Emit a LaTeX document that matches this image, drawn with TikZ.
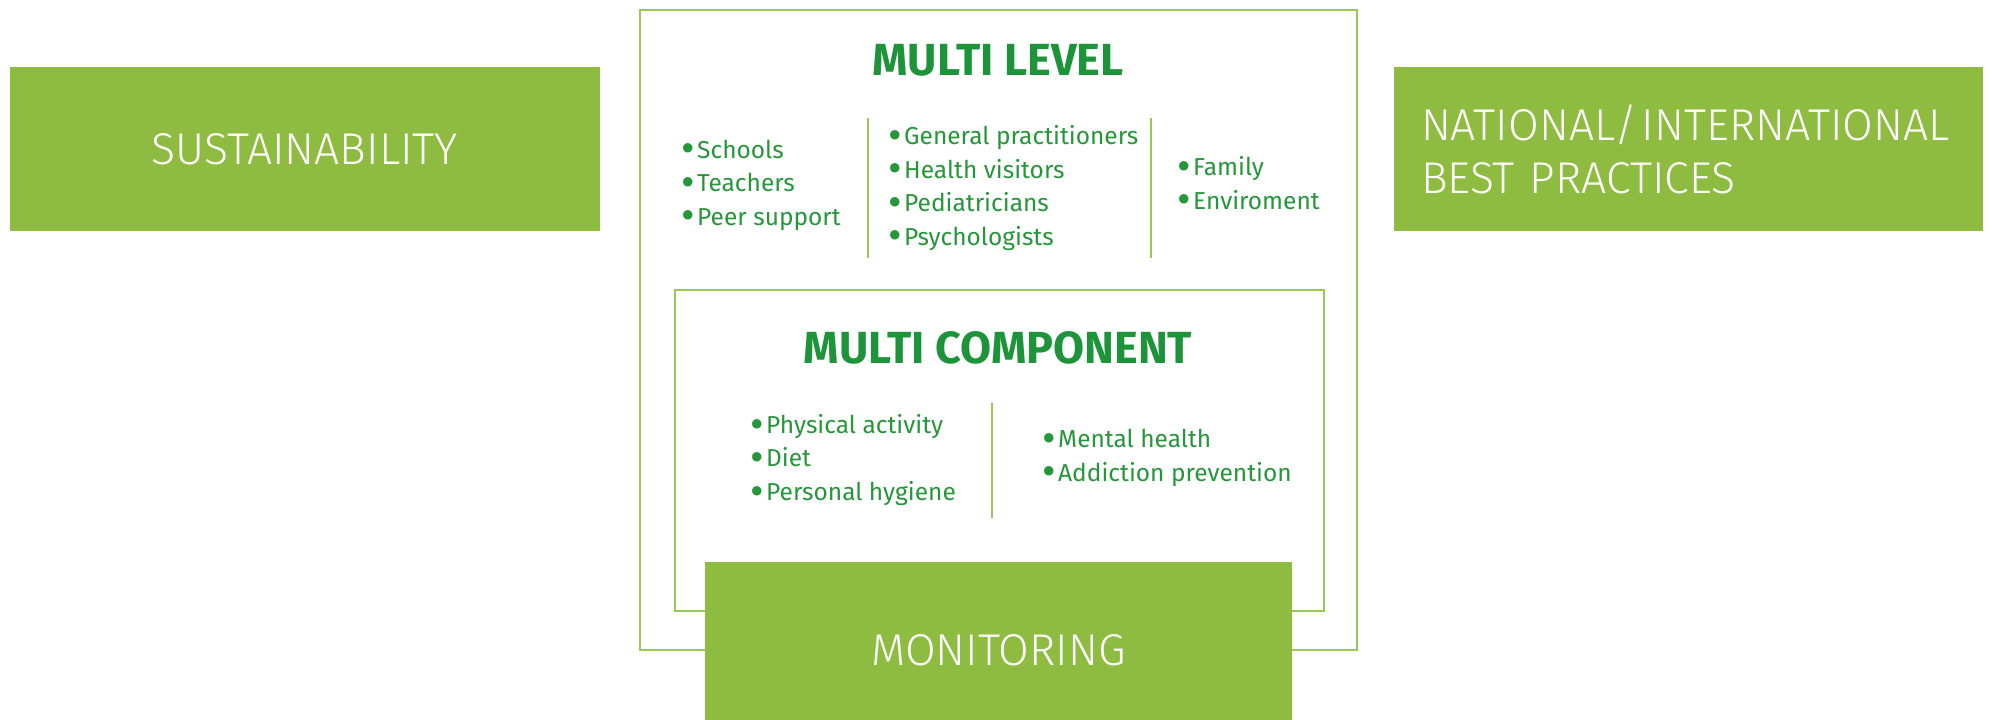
\documentclass[tikz,border=0pt]{standalone}
\usepackage{fontspec}
\setmainfont{Fira Sans}
\newfontfamily\lightfont{Fira Sans Light}
\usepackage{xcolor}
\usepackage{graphicx}
\usetikzlibrary{positioning}
\definecolor{boxgreen}{RGB}{141,188,64}
\definecolor{titlegreen}{RGB}{30,148,58}
\definecolor{itemgreen}{RGB}{38,150,58}
\definecolor{linegreen}{RGB}{152,201,84}
\newcommand\bul{\raisebox{-4.6pt}[0pt][0pt]{\scalebox{1.7}{\textbullet}}\hspace{2.5pt}}

\begin{document}
\begin{tikzpicture}[
x=1pt, y=1pt,
greenbox/.style = {fill=boxgreen, text=white, inner sep=0pt,
                   font=\lightfont\fontsize{44.5}{53}\selectfont},
frameline/.style = {draw=linegreen, line width=2pt},
heading/.style = {text=titlegreen, inner sep=0pt,
                  font=\bfseries\fontsize{45}{50}\selectfont},
itemlist/.style = {text=itemgreen, anchor=west, align=left, inner sep=0pt,
                   font=\fontsize{24.5}{33.5}\selectfont},
                        ]
\useasboundingbox (0,0) rectangle (1992,720);
% side boxes
\node (sustain) [greenbox, minimum width=590pt, minimum height=164pt] at (305,571) {SUSTAINABILITY};
\node (practices) [greenbox, minimum width=589pt, minimum height=164pt,
                   text width=535pt, align=left] at (1688.5,571) {NATIONAL/\hspace{4pt}INTERNATIONAL\\BEST PRACTICES};
\node (monitor) [greenbox, minimum width=587pt, minimum height=158pt,
                 text height=49pt, text depth=0pt] at (998.5,79) {MONITORING};
% frames
\draw[frameline] (monitor.west |- 0,70) -- (640,70) -- (640,710) -- (1357,710) -- (1357,70) -- (monitor.east |- 0,70);
\draw[frameline] (monitor.west |- 0,109) -- (675,109) -- (675,430) -- (1324,430) -- (1324,109) -- (monitor.east |- 0,109);
% multi level
\node (level) [heading] at (998,660) {MULTI LEVEL};
\node (schools) [itemlist] at (681,535) {\bul Schools\\\bul Teachers\\\bul Peer support};
\node (doctors) [itemlist] at (888,532) {\bul General practitioners\\\bul Health visitors\\\bul Pediatricians\\\bul Psychologists};
\node (family) [itemlist] at (1177,537) {\bul Family\\\bul Enviroment};
\draw[frameline] (868,602) -- (868,462);
\draw[frameline] (1151,602) -- (1151,462);
% multi component
\node (component) [heading] at (998,372) {MULTI COMPONENT};
\node (body) [itemlist] at (750,260) {\bul Physical activity\\\bul Diet\\\bul Personal hygiene};
\node (mind) [itemlist] at (1042,262) {\bul Mental health\\\bul Addiction prevention};
\draw[frameline] (992,317) -- (992,202);
\end{tikzpicture}
\end{document}
